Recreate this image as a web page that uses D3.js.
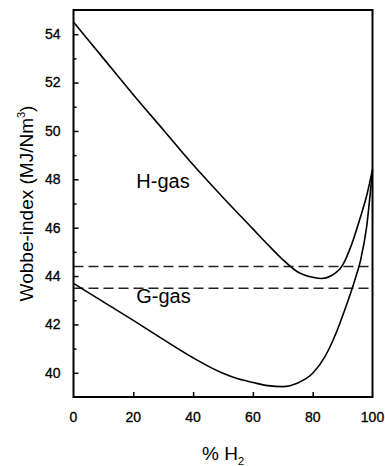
<!DOCTYPE html>
<html>
<head>
<meta charset="utf-8">
<script src="https://cdn.jsdelivr.net/npm/d3@7"></script>
<style>
  body { margin: 0; background: #fff; }
  text { font-family: "Liberation Sans", Arial, sans-serif; fill: #000; }
</style>
</head>
<body>
<div id="chart"></div>
<script>
// H-gas curve (% H2 vs Wobbe-index)
var hPct   = [0, 10, 20, 30, 40, 50, 60, 65, 70, 75, 80, 83, 86, 90, 93, 96, 98, 100];
var hWobbe = [54.5, 53.0, 51.5, 50.05, 48.6, 47.25, 45.95, 45.3, 44.68, 44.17, 43.95, 43.9, 44.0, 44.45, 45.3, 46.45, 47.3, 48.4];

// G-gas curve
var gPct   = [0, 10, 20, 30, 40, 50, 55, 60, 65, 70, 75, 80, 84, 88, 91, 94, 96, 98, 100];
var gWobbe = [43.7, 42.93, 42.17, 41.38, 40.62, 39.98, 39.75, 39.6, 39.47, 39.43, 39.58, 39.98, 40.65, 41.7, 42.7, 43.8, 44.65, 46.0, 48.4];

// dashed reference levels
var dashLevels = [44.4, 43.5];

var xTicks = [0, 20, 40, 60, 80, 100];
var yTicks = [40, 42, 44, 46, 48, 50, 52, 54];
var yMinor = [41, 43, 45, 47, 49, 51, 53];

function init() {
    var margin = {top: 10, right: 12.5, bottom: 69, left: 73.5};
    var W = 385, H = 466;
    var w = W - margin.left - margin.right;
    var h = H - margin.top - margin.bottom;

    var svg = d3.select("#chart")
        .append("svg")
        .attr("width", W)
        .attr("height", H)
        .append("g")
        .attr("transform", "translate(" + margin.left + "," + margin.top + ")");

    var xScale = d3.scaleLinear().domain([0, 100]).range([0, w]);
    var yScale = d3.scaleLinear().domain([39, 55]).range([h, 0]);

    // dashed lines
    svg.selectAll(".dash")
        .data(dashLevels)
        .enter().append("line")
        .attr("x1", 0).attr("x2", w)
        .attr("y1", function(d) { return yScale(d); })
        .attr("y2", function(d) { return yScale(d); })
        .attr("stroke", "#222")
        .attr("stroke-width", 1.5)
        .attr("stroke-dasharray", "10 5");

    var line = d3.line()
        .x(function(d) { return xScale(d[0]); })
        .y(function(d) { return yScale(d[1]); })
        .curve(d3.curveMonotoneX);

    var hData = hPct.map(function(p, i) { return [p, hWobbe[i]]; });
    var gData = gPct.map(function(p, i) { return [p, gWobbe[i]]; });

    [hData, gData].forEach(function(ds) {
        svg.append("path")
            .datum(ds)
            .attr("d", line)
            .attr("fill", "none")
            .attr("stroke", "#000")
            .attr("stroke-width", 1.6);
    });

    // y axis, ticks pointing inward
    var yAxis = d3.axisRight(yScale).tickValues(yTicks).tickSize(5).tickFormat("");
    svg.append("g").call(yAxis).call(function(g) { g.select(".domain").remove(); });
    var yAxisMinor = d3.axisRight(yScale).tickValues(yMinor).tickSize(3).tickFormat("");
    svg.append("g").call(yAxisMinor).call(function(g) { g.select(".domain").remove(); });
    svg.selectAll(".tick line").attr("stroke-width", 1.5);

    svg.selectAll(".ylab")
        .data(yTicks)
        .enter().append("text")
        .attr("x", -13)
        .attr("y", function(d) { return yScale(d); })
        .attr("dy", "0.35em")
        .attr("text-anchor", "end")
        .attr("font-size", 14)
        .attr("stroke", "#000")
        .attr("stroke-width", 0.3)
        .text(function(d) { return d; });

    // x axis, ticks pointing up
    var xAxis = d3.axisTop(xScale).tickValues(xTicks.slice(1, -1)).tickSize(5).tickFormat("");
    svg.append("g")
        .attr("transform", "translate(0," + h + ")")
        .call(xAxis)
        .call(function(g) { g.select(".domain").remove(); })
        .selectAll("line").attr("stroke-width", 1.5);

    svg.selectAll(".xlab")
        .data(xTicks)
        .enter().append("text")
        .attr("x", function(d) { return xScale(d); })
        .attr("y", h + 25)
        .attr("text-anchor", "middle")
        .attr("font-size", 14)
        .attr("stroke", "#000")
        .attr("stroke-width", 0.3)
        .text(function(d) { return d; });

    // frame
    svg.append("rect")
        .attr("width", w).attr("height", h)
        .attr("fill", "none")
        .attr("stroke", "#000")
        .attr("stroke-width", 2);

    // curve labels
    svg.append("text")
        .attr("x", xScale(21)).attr("y", yScale(47.64))
        .attr("font-size", 20)
        .text("H-gas");
    svg.append("text")
        .attr("x", xScale(21)).attr("y", yScale(42.88))
        .attr("font-size", 20)
        .text("G-gas");

    // axis titles
    var xt = svg.append("text")
        .attr("x", w / 2)
        .attr("y", h + 63)
        .attr("text-anchor", "middle")
        .attr("font-size", 19);
    xt.append("tspan").text("% H");
    xt.append("tspan").attr("font-size", 11).attr("dy", 5).text("2");

    var yt = svg.append("text")
        .attr("transform", "translate(" + (-41) + "," + (yScale(47.0)) + ") rotate(-90)")
        .attr("text-anchor", "middle")
        .attr("font-size", 19);
    yt.append("tspan").text("Wobbe-index (MJ/Nm");
    yt.append("tspan").attr("font-size", 11).attr("dy", -8).text("3");
    yt.append("tspan").attr("dy", 8).text(")");
}

window.onload = init;
</script>
</body>
</html>
